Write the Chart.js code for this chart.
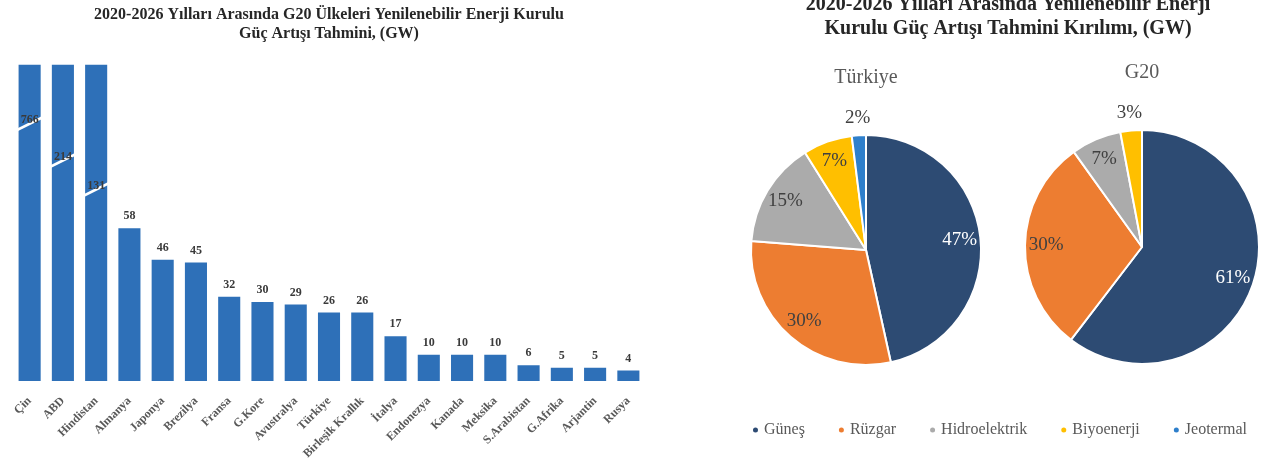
<!DOCTYPE html>
<html>
<head>
<meta charset="utf-8">
<script src="https://cdn.jsdelivr.net/npm/chart.js@4.4.1/dist/chart.umd.min.js"></script>
<style>
  html, body { margin: 0; padding: 0; background: #fff; }
  #wrap { position: relative; width: 1268px; height: 474px; overflow: hidden; filter: blur(0.5px); }
  .box { position: absolute; }
  #barBox { left: 0; top: 0; width: 655px; height: 474px; }
  #trBox { left: 700px; top: 0; width: 568px; height: 474px; }
  #g20Box { left: 1010px; top: 50px; width: 258px; height: 330px; }
</style>
</head>
<body>
<div id="wrap">
  <div class="box" id="barBox"><canvas id="barChart"></canvas></div>
  <div class="box" id="trBox"><canvas id="trChart"></canvas></div>
  <div class="box" id="g20Box"><canvas id="g20Chart"></canvas></div>
</div>
<script>
// ---- data ----
const countries = ['Çin', 'ABD', 'Hindistan', 'Almanya', 'Japonya', 'Brezilya', 'Fransa', 'G.Kore',
  'Avustralya', 'Türkiye', 'Birleşik Krallık', 'İtalya', 'Endonezya', 'Kanada', 'Meksika',
  'S.Arabistan', 'G.Afrika', 'Arjantin', 'Rusya'];
const capacityGW = [766, 214, 131, 58, 46, 45, 32, 30, 29, 26, 26, 17, 10, 10, 10, 6, 5, 5, 4];
const axisMaxGW = 120;
// level (GW on the axis) where oversize bars get their break mark
const breakLevelGW = [99, 85, 74];

const barTitle = ['2020-2026 Yılları Arasında G20 Ülkeleri Yenilenebilir Enerji Kurulu', 'Güç Artışı Tahmini, (GW)'];
const pieTitle = ['2020-2026 Yılları Arasında Yenilenebilir Enerji', 'Kurulu Güç Artışı Tahmini Kırılımı, (GW)'];

const sources = ['Güneş', 'Rüzgar', 'Hidroelektrik', 'Biyoenerji', 'Jeotermal'];
const sourceColors = ['#2D4B73', '#ED7D31', '#ABABAB', '#FFBF00', '#2E7FCB'];
const shareTurkiye = [47, 30, 15, 7, 2];
const shareG20 = [61, 30, 7, 3, 0];

const SERIF = '"Liberation Serif", "Times New Roman", serif';
const BAR_BLUE = '#2E70B8';

// ---- bar chart: values above bars, break marks on bars beyond the axis ----
const barValues = {
  id: 'barValues',
  afterDatasetsDraw(chart) {
    const ctx = chart.ctx;
    const yScale = chart.scales.y;
    const meta = chart.getDatasetMeta(0);
    ctx.save();
    ctx.font = 'bold 12px ' + SERIF;
    ctx.textAlign = 'center';
    ctx.textBaseline = 'middle';
    meta.data.forEach((bar, i) => {
      const v = capacityGW[i];
      const p = bar.getProps(['x', 'y', 'width'], true);
      let ly;
      if (v > yScale.max) {
        const by = yScale.getPixelForValue(breakLevelGW[i]);
        const l = p.x - p.width / 2 - 1, r = p.x + p.width / 2 + 1;
        ctx.fillStyle = '#fff';
        ctx.beginPath();
        ctx.moveTo(l, by + 8);
        ctx.lineTo(r, by - 4);
        ctx.lineTo(r, by - 1);
        ctx.lineTo(l, by + 11);
        ctx.closePath();
        ctx.fill();
        ly = by;
      } else {
        ly = p.y - 12;
      }
      ctx.fillStyle = '#3a3a3a';
      ctx.fillText(String(v), p.x, ly);
    });
    ctx.restore();
  }
};

new Chart(document.getElementById('barChart'), {
  type: 'bar',
  data: {
    labels: countries,
    datasets: [{
      data: capacityGW,
      backgroundColor: BAR_BLUE,
      categoryPercentage: 0.8,
      barPercentage: 0.83
    }]
  },
  options: {
    responsive: true,
    maintainAspectRatio: false,
    animation: false,
    layout: { padding: { left: 13, right: 10, top: 0, bottom: 0 } },
    plugins: {
      legend: { display: false },
      tooltip: { enabled: false },
      title: {
        display: true,
        text: barTitle,
        color: '#262626',
        font: { family: SERIF, size: 16, weight: 'bold', lineHeight: 1.15 },
        padding: { top: 6, bottom: 22 }
      }
    },
    scales: {
      x: {
        grid: { display: false },
        border: { display: false },
        ticks: {
          color: '#595959',
          font: { family: SERIF, size: 12, weight: 'bold' },
          minRotation: 45,
          maxRotation: 45,
          autoSkip: false,
          padding: 5
        },
        afterFit(scale) { scale.height = 93; }
      },
      y: {
        display: false,
        min: 0,
        max: axisMaxGW
      }
    }
  },
  plugins: [barValues]
});

// ---- pie charts: percentage labels and small headings ----
const pieLabels = {
  id: 'pieLabels',
  afterDatasetsDraw(chart, args, opts) {
    const ctx = chart.ctx;
    const meta = chart.getDatasetMeta(0);
    const values = chart.data.datasets[0].data;
    ctx.save();
    ctx.textAlign = 'center';
    ctx.textBaseline = 'middle';
    let cx = 0, cy = 0, R = 0;
    meta.data.forEach((arc, i) => {
      const p = arc.getProps(['x', 'y', 'startAngle', 'endAngle', 'outerRadius'], true);
      cx = p.x; cy = p.y; R = p.outerRadius;
      const v = values[i];
      if (!v) return;
      const mid = (p.startAngle + p.endAngle) / 2;
      const outside = v < 5;
      const r = outside ? R * 1.15 : R * 0.82;
      ctx.font = '19px ' + SERIF;
      ctx.fillStyle = i === 0 ? '#ffffff' : '#404040';
      ctx.fillText(v + '%', cx + Math.cos(mid) * r, cy + Math.sin(mid) * r);
    });
    ctx.font = '20px ' + SERIF;
    ctx.fillStyle = '#595959';
    ctx.fillText(opts.heading, cx, cy - R - 57);
    ctx.restore();
  }
};

// ---- shared heading and legend for the two pies ----
const pieFrame = {
  id: 'pieFrame',
  afterDraw(chart, args, opts) {
    const ctx = chart.ctx;
    ctx.save();
    ctx.textBaseline = 'middle';
    ctx.textAlign = 'center';
    ctx.fillStyle = '#262626';
    ctx.font = 'bold 20px ' + SERIF;
    pieTitle.forEach((line, k) => ctx.fillText(line, opts.titleX, 5 + k * 24));

    ctx.font = '16px ' + SERIF;
    ctx.textAlign = 'left';
    const dot = 2.5, dotGap = 6, gap = 34;
    const widths = sources.map(s => dot * 2 + dotGap + ctx.measureText(s).width);
    const total = widths.reduce((a, b) => a + b, 0) + gap * (sources.length - 1);
    let x = opts.legendX - total / 2;
    const y = opts.legendY;
    sources.forEach((s, i) => {
      ctx.fillStyle = sourceColors[i];
      ctx.beginPath();
      ctx.arc(x + dot, y, dot, 0, Math.PI * 2);
      ctx.fill();
      ctx.fillStyle = '#595959';
      ctx.fillText(s, x + dot * 2 + dotGap, y);
      x += widths[i] + gap;
    });
    ctx.restore();
  }
};

function pieDataset(values) {
  return {
    labels: sources,
    datasets: [{
      data: values,
      backgroundColor: sourceColors,
      borderColor: '#ffffff',
      borderWidth: 2
    }]
  };
}

new Chart(document.getElementById('trChart'), {
  type: 'pie',
  data: pieDataset(shareTurkiye),
  options: {
    responsive: true,
    maintainAspectRatio: false,
    animation: false,
    layout: { padding: { left: 50, right: 286, top: 134, bottom: 108 } },
    plugins: {
      tooltip: { enabled: false },
      legend: { display: false },
      title: { display: false },
      pieLabels: { heading: 'Türkiye' },
      pieFrame: { titleX: 308, legendX: 300, legendY: 430 }
    }
  },
  plugins: [pieLabels, pieFrame]
});

new Chart(document.getElementById('g20Chart'), {
  type: 'pie',
  data: pieDataset(shareG20),
  options: {
    responsive: true,
    maintainAspectRatio: false,
    animation: false,
    layout: { padding: { left: 14, right: 8, top: 79, bottom: 15 } },
    plugins: {
      tooltip: { enabled: false },
      legend: { display: false },
      pieLabels: { heading: 'G20' }
    }
  },
  plugins: [pieLabels]
});
</script>
</body>
</html>
